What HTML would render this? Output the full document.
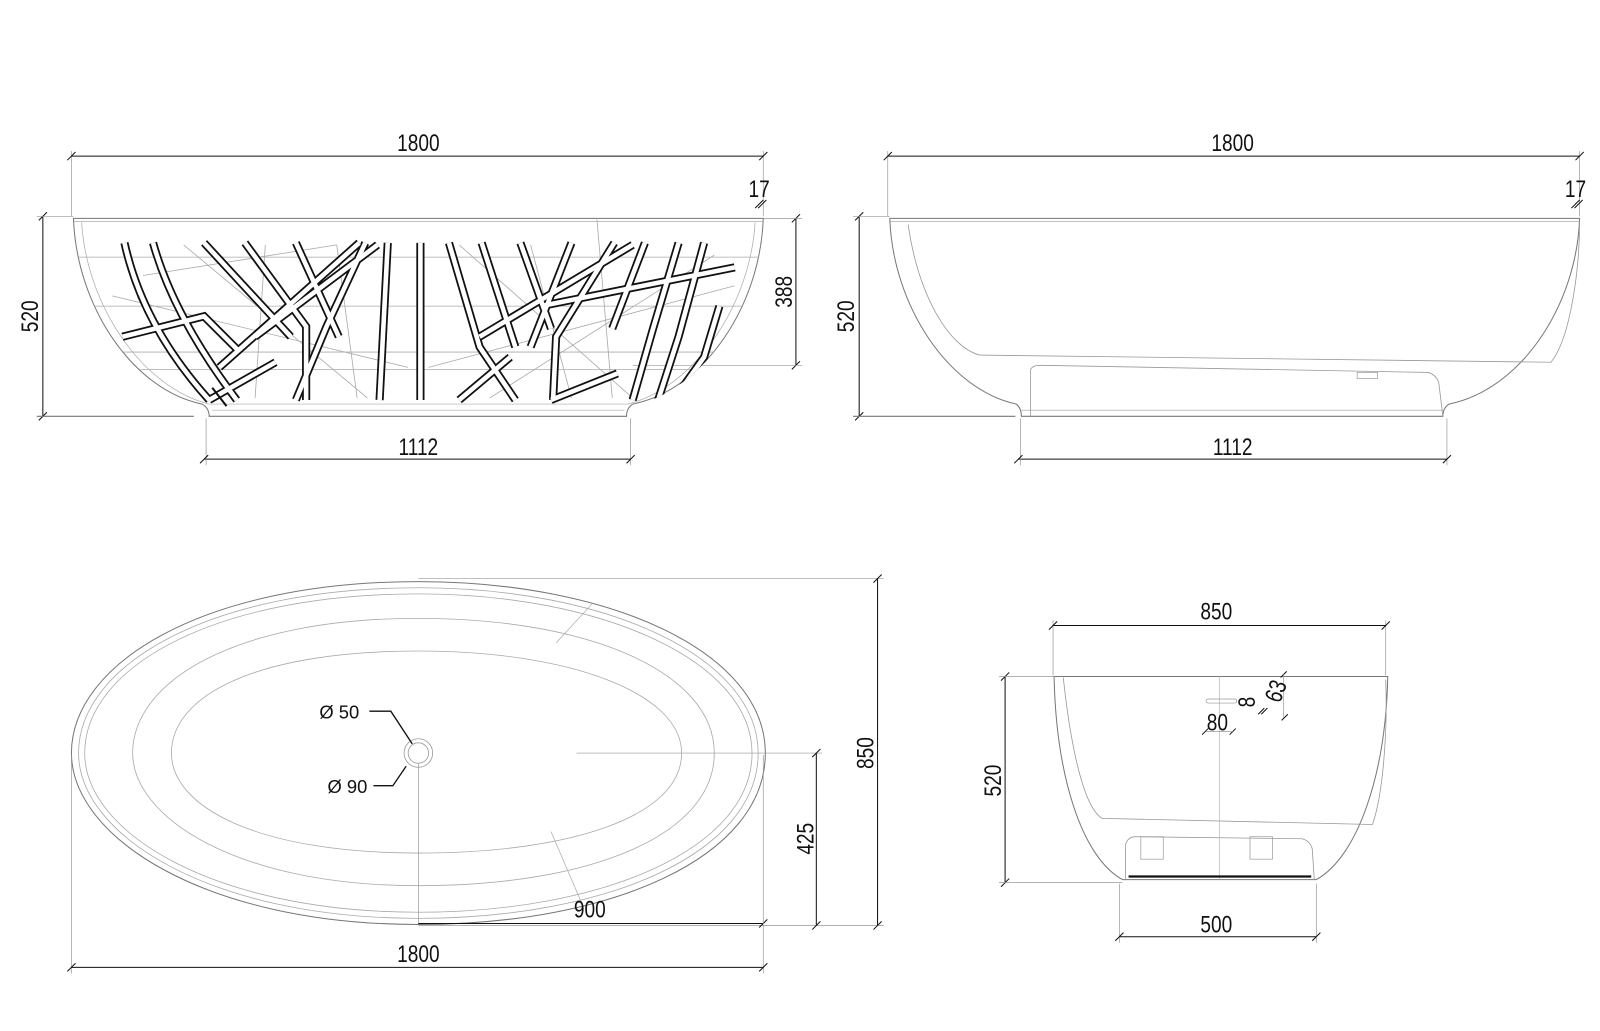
<!DOCTYPE html>
<html><head><meta charset="utf-8"><style>
html,body{margin:0;padding:0;background:#fff;}
svg{display:block}
text{font-family:"Liberation Sans",sans-serif;fill:#111;}
</style></head><body>
<svg width="1600" height="1031" viewBox="0 0 1568 1010.4" preserveAspectRatio="none" xmlns="http://www.w3.org/2000/svg">
<defs>
<clipPath id="bowl1"><path d="M72 214 L748 214 C745 300 690 382 620 398 L205 398 C130 382 75 300 72 214 Z"/></clipPath>
</defs>
<g fill="none" stroke="#111" stroke-width="1">
<!-- ===== TOP LEFT VIEW ===== -->
<line x1="70" y1="153" x2="748" y2="153"/>
<line x1="70" y1="148" x2="70" y2="212" stroke="#999" stroke-width="0.7"/>
<line x1="748" y1="148" x2="748" y2="212" stroke="#999" stroke-width="0.7"/>
<line x1="66" y1="157" x2="74" y2="149"/><line x1="744" y1="157" x2="752" y2="149"/>
<line x1="740" y1="204" x2="748" y2="196"/><line x1="743" y1="204" x2="751" y2="196"/>
<line x1="42" y1="212" x2="42" y2="408"/>
<line x1="38" y1="216" x2="46" y2="208"/><line x1="38" y1="412" x2="46" y2="404"/>
<line x1="36" y1="212" x2="72" y2="212" stroke="#999" stroke-width="0.7"/>
<line x1="36" y1="408" x2="190" y2="408" stroke="#777" stroke-width="1.2"/>
<line x1="780" y1="214" x2="780" y2="358"/>
<line x1="776" y1="218" x2="784" y2="210"/><line x1="776" y1="362" x2="784" y2="354"/>
<line x1="748" y1="214" x2="786" y2="214" stroke="#999" stroke-width="0.7"/>
<line x1="620" y1="358" x2="786" y2="358" stroke="#999" stroke-width="0.7"/>
<line x1="200" y1="450" x2="618" y2="450"/>
<line x1="202" y1="410" x2="202" y2="456" stroke="#999" stroke-width="0.7"/>
<line x1="618" y1="410" x2="618" y2="456" stroke="#999" stroke-width="0.7"/>
<line x1="196" y1="454" x2="204" y2="446"/><line x1="614" y1="454" x2="622" y2="446"/>
<!-- bowl outline -->
<path d="M72 214 L748 214 C745 300 690 382 620 396 Q614 400 614 408 L205 408 Q205 400 198 396 C130 382 75 300 72 214 Z" stroke="#777" stroke-width="1"/>
<path d="M80 218 C85 300 140 380 205 396 L615 396 C680 380 735 300 740 218" stroke="#aaa" stroke-width="0.7"/>
<line x1="72" y1="217" x2="748" y2="217" stroke="#999" stroke-width="0.7"/>
<line x1="208" y1="402" x2="612" y2="402" stroke="#aaa" stroke-width="0.7"/>
<g clip-path="url(#bowl1)">
<g stroke="#aaa" stroke-width="0.8">
<line x1="72" y1="252" x2="748" y2="252"/><line x1="72" y1="300" x2="748" y2="300"/>
<line x1="72" y1="345" x2="748" y2="345"/><line x1="72" y1="362" x2="748" y2="362"/>
<line x1="110" y1="290" x2="400" y2="360"/><line x1="420" y1="360" x2="720" y2="280"/>
<line x1="180" y1="240" x2="360" y2="390"/><line x1="450" y1="240" x2="620" y2="390"/>
<line x1="260" y1="240" x2="250" y2="390"/><line x1="330" y1="240" x2="350" y2="390"/>
<line x1="520" y1="240" x2="560" y2="390"/><line x1="585" y1="215" x2="600" y2="390"/>
<line x1="140" y1="270" x2="330" y2="240"/><line x1="480" y1="390" x2="700" y2="250"/>
</g>
<g id="strips">
<path d="M122 238 Q140 320 205 392 M150 238 Q170 310 232 392 M200 238 L285 330 M240 238 L300 320 L300 392 M290 238 L332 330 M358 238 L320 320 L290 392 M380 238 L372 392 M412 238 L412 392 M440 238 L470 340 L505 392 M472 238 L505 340 M510 238 L540 322 M560 238 L520 340 M602 238 L545 330 L542 392 M632 238 L600 322 M665 238 L640 322 L620 392 M690 238 L665 330 L645 392 M352 238 L215 360 M720 262 L530 300 M120 330 L200 310 L235 345 M205 392 L270 355 M450 392 L500 350 M540 392 L605 366 M370 240 L250 330 M620 240 L470 330 M705 300 L690 350 L660 392" stroke="#111" stroke-width="8" stroke-linejoin="miter"/>
<path d="M122 238 Q140 320 205 392 M150 238 Q170 310 232 392 M200 238 L285 330 M240 238 L300 320 L300 392 M290 238 L332 330 M358 238 L320 320 L290 392 M380 238 L372 392 M412 238 L412 392 M440 238 L470 340 L505 392 M472 238 L505 340 M510 238 L540 322 M560 238 L520 340 M602 238 L545 330 L542 392 M632 238 L600 322 M665 238 L640 322 L620 392 M690 238 L665 330 L645 392 M352 238 L215 360 M720 262 L530 300 M120 330 L200 310 L235 345 M205 392 L270 355 M450 392 L500 350 M540 392 L605 366 M370 240 L250 330 M620 240 L470 330 M705 300 L690 350 L660 392" stroke="#fff" stroke-width="4.5" stroke-linejoin="miter"/>
</g>
</g>
<line x1="208" y1="380" x2="222" y2="398" stroke="#111" stroke-width="2"/>

<!-- ===== TOP RIGHT VIEW ===== -->
<line x1="870" y1="153" x2="1548" y2="153"/>
<line x1="870" y1="148" x2="870" y2="212" stroke="#999" stroke-width="0.7"/>
<line x1="1548" y1="148" x2="1548" y2="212" stroke="#999" stroke-width="0.7"/>
<line x1="866" y1="157" x2="874" y2="149"/><line x1="1544" y1="157" x2="1552" y2="149"/>
<line x1="1540" y1="204" x2="1548" y2="196"/><line x1="1543" y1="204" x2="1551" y2="196"/>
<line x1="842" y1="212" x2="842" y2="408"/>
<line x1="838" y1="216" x2="846" y2="208"/><line x1="838" y1="412" x2="846" y2="404"/>
<line x1="836" y1="212" x2="872" y2="212" stroke="#999" stroke-width="0.7"/>
<line x1="836" y1="408" x2="995" y2="408" stroke="#777" stroke-width="1.2"/>
<line x1="998" y1="450" x2="1418" y2="450"/>
<line x1="1000" y1="410" x2="1000" y2="456" stroke="#999" stroke-width="0.7"/>
<line x1="1418" y1="410" x2="1418" y2="456" stroke="#999" stroke-width="0.7"/>
<line x1="994" y1="454" x2="1002" y2="446"/><line x1="1414" y1="454" x2="1422" y2="446"/>
<path d="M872 214 L1548 214 C1545 300 1490 382 1420 396 Q1414 400 1414 408 L1001 408 Q1001 400 996 396 C930 382 875 300 872 214 Z" stroke="#777"/>
<line x1="872" y1="217" x2="1548" y2="217" stroke="#999" stroke-width="0.7"/>
<path d="M890 220 C900 290 930 340 960 348 L1520 355 C1540 330 1548 260 1548 218" stroke="#999" stroke-width="0.8"/>
<path d="M1010 408 L1010 362 Q1012 358 1020 358 L1400 365 Q1408 368 1410 375 L1414 408" stroke="#999" stroke-width="0.8"/>
<line x1="1001" y1="402" x2="1414" y2="402" stroke="#999" stroke-width="0.7"/>
<rect x="1330" y="365" width="20" height="6" stroke="#999" stroke-width="0.7"/>

<!-- ===== BOTTOM LEFT VIEW ===== -->
<path d="M410 570 C600 570 750 640 750 738 C750 840 600 906 410 906 C200 906 70 820 70 738 C70 650 200 570 410 570 Z" stroke="#777"/>
<path d="M410 576 C595 576 743 644 743 738 C743 836 595 900 410 900 C205 900 77 818 77 738 C77 652 205 576 410 576 Z" stroke="#aaa" stroke-width="0.8"/>
<path d="M410 582 C590 582 737 648 737 738 C737 832 590 894 410 894 C210 894 83 816 83 738 C83 654 210 582 410 582 Z" stroke="#aaa" stroke-width="0.8"/>
<path d="M410 606 C580 606 700 660 700 738 C700 818 580 868 410 868 C230 868 130 800 130 738 C130 668 230 606 410 606 Z" stroke="#aaa" stroke-width="0.8"/>
<path d="M410 638 C560 638 668 680 668 738 C668 800 560 836 410 836 C250 836 168 790 168 738 C168 682 250 638 410 638 Z" stroke="#aaa" stroke-width="0.8"/>
<line x1="580" y1="592" x2="545" y2="630" stroke="#aaa" stroke-width="0.7"/>
<line x1="540" y1="815" x2="570" y2="885" stroke="#aaa" stroke-width="0.7"/>
<circle cx="410" cy="738" r="14" stroke="#999" stroke-width="0.8"/>
<circle cx="410" cy="738" r="10" stroke="#999" stroke-width="0.8"/>
<line x1="410" y1="748" x2="410" y2="906" stroke="#999" stroke-width="0.7"/>
<polyline points="362,697 383,697 404,729" stroke-width="1.3"/>
<polyline points="366,770 385,770 398,751" stroke-width="1.3"/>
<line x1="565" y1="738" x2="806" y2="738" stroke="#999" stroke-width="0.7"/>
<line x1="410" y1="567" x2="866" y2="567" stroke="#999" stroke-width="0.7"/>
<line x1="410" y1="907" x2="866" y2="907" stroke="#999" stroke-width="0.7"/>
<line x1="860" y1="567" x2="860" y2="907"/>
<line x1="856" y1="571" x2="864" y2="563"/><line x1="856" y1="911" x2="864" y2="903"/>
<line x1="800" y1="738" x2="800" y2="907"/>
<line x1="796" y1="742" x2="804" y2="734"/><line x1="796" y1="911" x2="804" y2="903"/>
<line x1="410" y1="905" x2="748" y2="905"/>
<line x1="744" y1="909" x2="752" y2="901"/>
<line x1="70" y1="948" x2="748" y2="948"/>
<line x1="70" y1="740" x2="70" y2="954" stroke="#999" stroke-width="0.7"/>
<line x1="748" y1="740" x2="748" y2="954" stroke="#999" stroke-width="0.7"/>
<line x1="66" y1="952" x2="74" y2="944"/><line x1="744" y1="952" x2="752" y2="944"/>

<!-- ===== BOTTOM RIGHT VIEW ===== -->
<line x1="1032" y1="613" x2="1358" y2="613"/>
<line x1="1032" y1="608" x2="1032" y2="662" stroke="#999" stroke-width="0.7"/>
<line x1="1358" y1="608" x2="1358" y2="662" stroke="#999" stroke-width="0.7"/>
<line x1="1028" y1="617" x2="1036" y2="609"/><line x1="1354" y1="617" x2="1362" y2="609"/>
<path d="M1033 663 L1360 663 C1358 760 1330 840 1290 862 L1100 862 C1060 840 1035 760 1033 663 Z" stroke="#777"/>
<path d="M1042 664 C1048 720 1060 790 1080 802 L1345 808 C1355 780 1360 720 1358 666" stroke="#999" stroke-width="0.8"/>
<path d="M1103 862 L1103 828 Q1105 820 1113 820 L1276 822 Q1284 824 1286 832 L1288 862" stroke="#999" stroke-width="0.8"/>
<rect x="1118" y="820" width="22" height="22" stroke="#999" stroke-width="0.7"/>
<rect x="1225" y="820" width="22" height="22" stroke="#999" stroke-width="0.7"/>
<line x1="1195" y1="663" x2="1195" y2="862" stroke="#bbb" stroke-width="0.7"/>
<line x1="1106" y1="859" x2="1285" y2="859" stroke-width="2.2"/>
<rect x="1182" y="685" width="30" height="4" rx="2" stroke="#999" stroke-width="0.7"/>
<line x1="985" y1="663" x2="985" y2="865"/>
<line x1="981" y1="667" x2="989" y2="659"/><line x1="981" y1="869" x2="989" y2="861"/>
<line x1="979" y1="663" x2="1033" y2="663" stroke="#999" stroke-width="0.7"/>
<line x1="979" y1="865" x2="1100" y2="865" stroke="#999" stroke-width="0.7"/>
<line x1="1097" y1="918" x2="1290" y2="918"/>
<line x1="1097" y1="866" x2="1097" y2="924" stroke="#999" stroke-width="0.7"/>
<line x1="1290" y1="866" x2="1290" y2="924" stroke="#999" stroke-width="0.7"/>
<line x1="1093" y1="922" x2="1101" y2="914"/><line x1="1286" y1="922" x2="1294" y2="914"/>
<line x1="1178" y1="720" x2="1184" y2="714"/><line x1="1205" y1="720" x2="1211" y2="714"/>
<line x1="1182" y1="717" x2="1208" y2="717" stroke="#999" stroke-width="0.7"/>
<line x1="1233" y1="700" x2="1239" y2="694"/><line x1="1236" y1="700" x2="1242" y2="694"/>
<line x1="1255" y1="664" x2="1261" y2="658"/><line x1="1256" y1="706" x2="1262" y2="700"/>
<line x1="1258" y1="661" x2="1258" y2="703" stroke="#999" stroke-width="0.7"/>
</g>
<g font-size="24">
<text x="410" y="148" text-anchor="middle" transform="translate(410 0) scale(0.78 1) translate(-410 0)">1800</text>
<text x="744" y="193" text-anchor="middle" transform="translate(744 0) scale(0.78 1) translate(-744 0)">17</text>
<text x="410" y="446" text-anchor="middle" transform="translate(410 0) scale(0.78 1) translate(-410 0)">1112</text>
<text transform="translate(37 310) rotate(-90) scale(0.78 1)" text-anchor="middle">520</text>
<text transform="translate(776 286) rotate(-90) scale(0.78 1)" text-anchor="middle">388</text>
<text x="1208" y="148" text-anchor="middle" transform="translate(1208 0) scale(0.78 1) translate(-1208 0)">1800</text>
<text x="1544" y="193" text-anchor="middle" transform="translate(1544 0) scale(0.78 1) translate(-1544 0)">17</text>
<text x="1208" y="446" text-anchor="middle" transform="translate(1208 0) scale(0.78 1) translate(-1208 0)">1112</text>
<text transform="translate(837 310) rotate(-90) scale(0.78 1)" text-anchor="middle">520</text>
<text transform="translate(856 738) rotate(-90) scale(0.78 1)" text-anchor="middle">850</text>
<text transform="translate(797 822) rotate(-90) scale(0.78 1)" text-anchor="middle">425</text>
<text x="578" y="899" text-anchor="middle" transform="translate(578 0) scale(0.78 1) translate(-578 0)">900</text>
<text x="410" y="943" text-anchor="middle" transform="translate(410 0) scale(0.78 1) translate(-410 0)">1800</text>
<text x="1192" y="607" text-anchor="middle" transform="translate(1192 0) scale(0.78 1) translate(-1192 0)">850</text>
<text x="1192" y="914" text-anchor="middle" transform="translate(1192 0) scale(0.78 1) translate(-1192 0)">500</text>
<text transform="translate(981 765) rotate(-90) scale(0.78 1)" text-anchor="middle">520</text>
<text x="1193" y="716" text-anchor="middle" transform="translate(1193 0) scale(0.78 1) translate(-1193 0)">80</text>
<text transform="translate(1230 688) rotate(-90) scale(0.78 1)" text-anchor="middle">8</text>
<text transform="translate(1258 680) rotate(-70) scale(0.78 1)" text-anchor="middle">63</text>
</g>
<g font-size="18">
<text x="313" y="704">Ø 50</text>
<text x="321" y="777">Ø 90</text>
</g>
</svg>
</body></html>
